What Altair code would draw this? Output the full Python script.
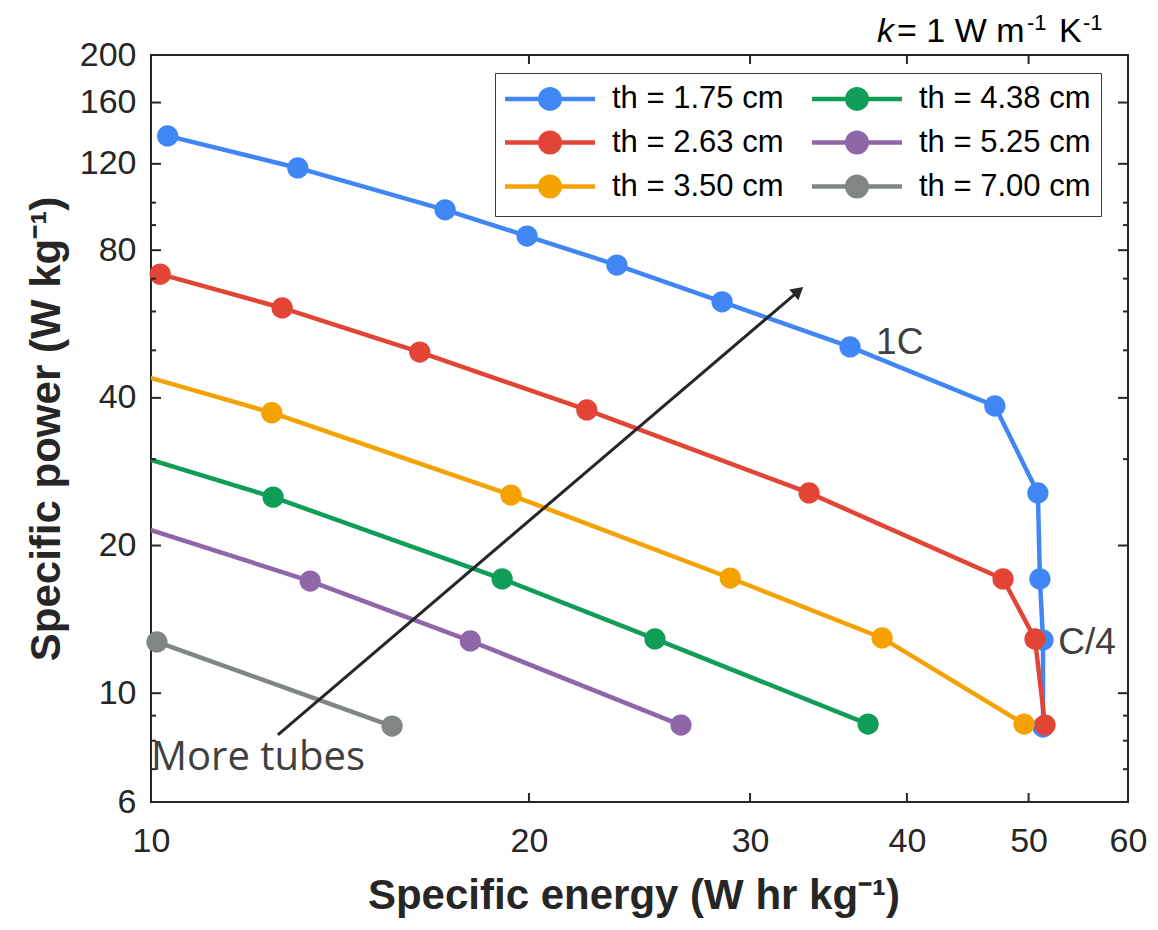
import altair as alt
import pandas as pd

# ---------------- data ----------------
series_names = ["th = 1.75 cm", "th = 2.63 cm", "th = 3.50 cm",
                "th = 4.38 cm", "th = 5.25 cm", "th = 7.00 cm"]
series_colors = ["#4086F4", "#E24536", "#F5A200", "#109D58", "#8F67A9", "#7F8684"]

energy_175 = [10.31, 13.09, 17.15, 19.93, 23.50, 28.50, 36.04, 47.0, 50.86, 51.05, 51.34, 51.34]
power_175 = [136.8, 117.7, 96.7, 85.5, 74.6, 62.8, 50.8, 38.5, 25.6, 17.1, 12.83, 8.53]
energy_263 = [10.17, 12.72, 16.37, 22.24, 33.43, 47.71, 50.59, 51.53]
power_263 = [71.5, 61.0, 49.6, 37.8, 25.6, 17.1, 12.9, 8.61]
energy_350 = [8.38, 12.48, 19.35, 28.93, 38.22, 49.59]
power_350 = [50.0, 37.3, 25.35, 17.17, 12.96, 8.65]
energy_438 = [7.36, 12.51, 19.04, 25.20, 37.25]
power_438 = [38.0, 25.1, 17.1, 12.9, 8.65]
energy_525 = [8.08, 13.39, 17.96, 26.43]
power_525 = [25.6, 16.93, 12.78, 8.61]
energy_700 = [10.11, 15.56]
power_700 = [12.72, 8.57]

x_tick_labels = [10, 20, 30, 40, 50, 60]
y_tick_labels = [6, 10, 20, 40, 80, 120, 160, 200]
y_minor_ticks = [7, 8, 9, 30, 50, 60, 70, 90, 100]

note_text = ["1C", "C/4"]
note_x = [37.8, 52.8]
note_y = [49.1, 12.02]

arrow_label = ["More tubes"]
arrow_label_x = [10.0]
arrow_label_y = [6.97]
arrow_x = [12.62, 32.79]
arrow_y = [8.22, 66.05]

# ---------------- build tables ----------------
energy_lists = [energy_175, energy_263, energy_350, energy_438, energy_525, energy_700]
power_lists = [power_175, power_263, power_350, power_438, power_525, power_700]
rows = []
for name, es, ps in zip(series_names, energy_lists, power_lists):
    for i, (e, p) in enumerate(zip(es, ps)):
        rows.append({"series": name, "idx": i, "energy": e, "power": p})
df = pd.DataFrame(rows)

W, H = 977, 747
FRAME = "#262626"
FONT = "Liberation Sans"

xscale = alt.Scale(type="log", domain=[10, 60], nice=False)
yscale = alt.Scale(type="log", domain=[6, 200], nice=False)
color_scale = alt.Scale(domain=series_names, range=series_colors)

x_axis = alt.Axis(values=x_tick_labels, format="d", ticks=False, domain=False, grid=False,
                  labelFontSize=34, labelFont=FONT, labelColor=FRAME, labelPadding=22,
                  labelOverlap=False, labelFlush=False,
                  title="Specific energy (W hr kg⁻¹)", titleFont=FONT, titleFontSize=42,
                  titleFontWeight="bold", titleColor=FRAME, titleBaseline="alphabetic",
                  titleX=W / 2 - 6, titleY=106)
y_axis = alt.Axis(values=y_tick_labels, format="d", ticks=False, domain=False, grid=False,
                  labelFontSize=34, labelFont=FONT, labelColor=FRAME, labelPadding=15,
                  labelOverlap=False, labelFlush=False,
                  title="Specific power (W kg⁻¹)", titleFont=FONT, titleFontSize=42,
                  titleFontWeight="bold", titleColor=FRAME, titleBaseline="alphabetic",
                  titleAngle=270, titleX=-92, titleY=H / 2)


def X(field):
    return alt.X(field, scale=xscale, axis=x_axis)


def Y(field):
    return alt.Y(field, scale=yscale, axis=y_axis)


# legend symbol: a line with a disc drawn as thick concentric rings
def ring(r):
    return f"M{r},0A{r},{r},0,1,1,{-r},0A{r},{r},0,1,1,{r},0"


symbol_path = "M-3.75,0H3.75" + ring(0.8125) + ring(0.5) + ring(0.17)

legend = alt.Legend(
    title=None, orient="none", legendX=344, legendY=18, columns=2,
    symbolType=symbol_path,
    symbolSize=576, symbolStrokeWidth=4.5, symbolOffset=29.5, symbolOpacity=1,
    labelFontSize=31, labelFont=FONT, labelColor="#000000", labelOffset=46.5, labelLimit=400,
    padding=10, rowPadding=5, columnPadding=19,
    strokeColor="#3A3A3A", fillColor="#FFFFFF",
)

layers = []
for k, name in enumerate(series_names):
    base = alt.Chart(df)
    line = base.transform_filter(alt.datum.series == name).mark_line(
        strokeWidth=4.5, clip=True).encode(
        x=X("energy:Q"), y=Y("power:Q"),
        color=alt.Color("series:N", scale=color_scale, legend=legend),
        order="idx:Q",
    )
    pts = base.transform_filter(
        (alt.datum.series == name) & (alt.datum.energy >= 10)).mark_circle(
        size=452, opacity=1).encode(
        x=X("energy:Q"), y=Y("power:Q"),
        color=alt.Color("series:N", scale=color_scale, legend=None),
    )
    layers += [line, pts]

# inward ticks (box style)
ymaj = pd.DataFrame({"v": y_tick_labels})
ymin = pd.DataFrame({"v": y_minor_ticks})
xmaj = pd.DataFrame({"v": x_tick_labels})
tick_layers = []
for d, ln in [(ymaj, 10), (ymin, 5)]:
    tick_layers.append(alt.Chart(d).mark_rule(color=FRAME, strokeWidth=2).encode(
        y=Y("v:Q"), x=alt.value(0), x2=alt.value(ln)))
    tick_layers.append(alt.Chart(d).mark_rule(color=FRAME, strokeWidth=2).encode(
        y=Y("v:Q"), x=alt.value(W), x2=alt.value(W - ln)))
tick_layers.append(alt.Chart(xmaj).mark_rule(color=FRAME, strokeWidth=2).encode(
    x=X("v:Q"), y=alt.value(H), y2=alt.value(H - 9)))
tick_layers.append(alt.Chart(xmaj).mark_rule(color=FRAME, strokeWidth=2).encode(
    x=X("v:Q"), y=alt.value(0), y2=alt.value(9)))

# annotations
arrow_df = pd.DataFrame({"x1": [arrow_x[0]], "y1": [arrow_y[0]], "x2": [arrow_x[1]], "y2": [arrow_y[1]]})
arrow = alt.Chart(arrow_df).mark_rule(color=FRAME, strokeWidth=3).encode(
    x=X("x1:Q"), y=Y("y1:Q"), x2="x2:Q", y2="y2:Q")
head = alt.Chart(pd.DataFrame({"x": [arrow_x[1]], "y": [arrow_y[1]]})).mark_point(
    shape="triangle-up", filled=True, size=200, angle=50, color=FRAME, opacity=1).encode(
    x=X("x:Q"), y=Y("y:Q"))
more = alt.Chart(pd.DataFrame({"t": arrow_label, "x": arrow_label_x, "y": arrow_label_y})).mark_text(
    font="Open Sans", fontSize=40, color="#404040", align="left", baseline="alphabetic").encode(
    x=X("x:Q"), y=Y("y:Q"), text="t:N")
notes = alt.Chart(pd.DataFrame({"t": note_text, "x": note_x, "y": note_y})).mark_text(
    font=FONT, fontSize=37, color="#404040", align="left", baseline="alphabetic").encode(
    x=X("x:Q"), y=Y("y:Q"), text="t:N")

# top-right condition label "k = 1 W m^-1 K^-1" built from pieces
title_pieces = ["k", "= 1 W m", "-1", "K", "-1"]
title_px = [726, 746, 876, 908, 932]
title_py = [-13, -13, -25, -13, -25]
title_size = [34, 34, 22, 34, 22]
title_style = ["italic", "normal", "normal", "normal", "normal"]
title_layers = []
for t, px, py, fs, st in zip(title_pieces, title_px, title_py, title_size, title_style):
    title_layers.append(alt.Chart(pd.DataFrame({"a": [0]})).mark_text(
        font=FONT, fontSize=fs, fontStyle=st, color="#000000", align="left",
        baseline="alphabetic").encode(x=alt.value(px), y=alt.value(py), text=alt.value(t)))

chart = alt.layer(*layers, *tick_layers, arrow, head, more, notes, *title_layers).properties(
    width=W, height=H,
    padding={"left": 143, "top": 47, "right": 22, "bottom": 116},
    autosize=alt.AutoSizeParams(type="none"),
).configure(background="white").configure_view(stroke=FRAME, strokeWidth=2)

chart.save("out.html", embed_options={"renderer": "svg", "actions": False})
